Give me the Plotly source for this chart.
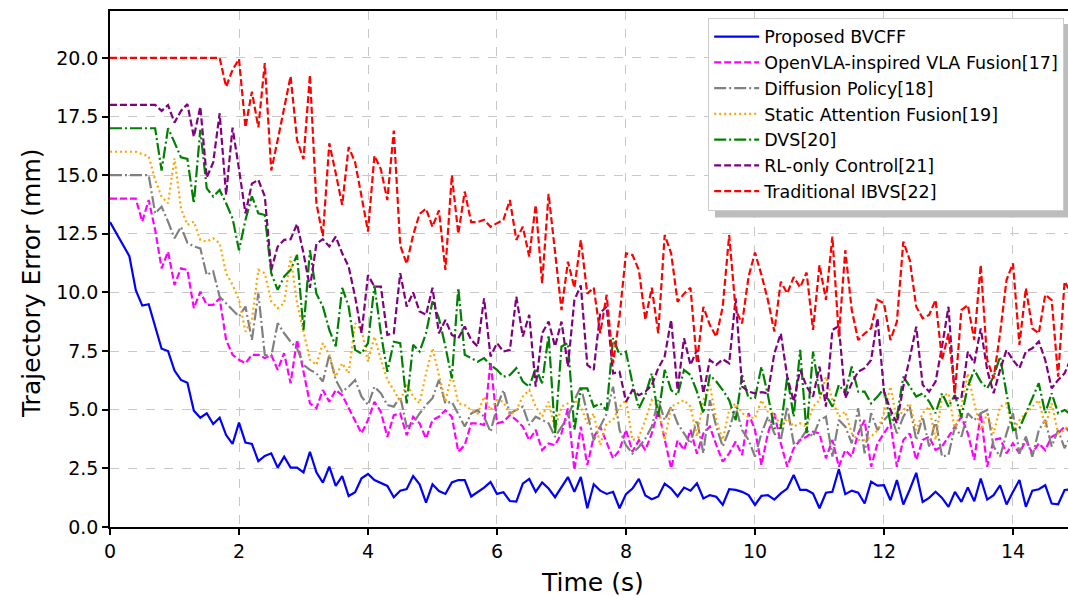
import plotly.graph_objects as go

TIME = [round(i * 0.1, 1) for i in range(150)]

proposed_bvcff = [
    13.0, 12.5, 12.0, 11.55, 10.1, 9.44, 9.5, 8.5, 7.6, 7.5,
    6.67, 6.27, 6.15, 4.96, 4.66, 4.85, 4.39, 4.66, 3.92, 3.54,
    4.45, 3.6, 3.54, 2.81, 3.03, 3.14, 2.53, 3.0, 2.53, 2.53,
    2.33, 3.21, 2.33, 1.89, 2.57, 1.75, 2.17, 1.32, 1.48, 2.08,
    2.26, 2.0, 1.88, 1.75, 1.27, 1.55, 1.62, 2.17, 1.82, 1.04,
    1.82, 1.53, 1.41, 1.9, 2.0, 2.0, 1.3, 1.48, 1.68, 1.92,
    1.41, 1.48, 1.11, 1.08, 1.85, 2.05, 1.5, 1.9, 1.64, 1.27,
    1.7, 2.13, 1.5, 2.13, 0.8, 1.82, 1.55, 1.41, 1.5, 0.8,
    1.4, 1.64, 2.05, 1.34, 1.18, 1.3, 1.85, 1.64, 1.3, 1.68,
    1.55, 1.86, 1.22, 1.36, 1.29, 0.94, 1.61, 1.58, 1.5, 1.36,
    0.94, 1.33, 1.36, 1.17, 1.43, 1.64, 2.22, 1.58, 1.58, 1.43,
    0.8, 1.46, 1.5, 2.46, 1.4, 1.55, 1.46, 1.0, 1.93, 1.76,
    1.78, 1.14, 2.0, 0.96, 1.6, 2.31, 1.07, 1.24, 1.5, 1.24,
    0.86, 1.5, 1.07, 1.69, 1.1, 2.07, 1.17, 1.36, 1.78, 0.96,
    1.5, 2.0, 0.86, 1.55, 1.61, 1.78, 1.0, 0.97, 1.58, 1.6,
]

openvla_fusion = [
    14, 14, 14, 14, 14, 13.02, 13.94, 12.67, 11.03, 11.74,
    10.32, 11.03, 10.96, 9.33, 10.03, 9.47, 9.47, 9.75, 7.98, 7.34,
    7.13, 6.98, 7.34, 7.34, 7.2, 7.34, 6.7, 7.41, 6.13, 7.98,
    6.55, 5.27, 5.06, 5.84, 5.34, 5.84, 5.62, 5.06, 4.56, 3.99,
    4.56, 5.34, 4.91, 3.84, 4.77, 4.84, 3.91, 4.7, 4.42, 3.77,
    4.56, 4.7, 4.98, 4.7, 3.21, 3.49, 4.42, 4.42, 4.35, 7.05,
    4.42, 4.49, 4.77, 4.56, 4.28, 3.7, 4.14, 3.28, 3.56, 3.49,
    3.99, 5.06, 2.43, 4.28, 2.64, 3.84, 4.28, 3.63, 2.92, 3.28,
    4.14, 3.21, 3.7, 3.28, 3.99, 4.98, 3.7, 2.5, 3.7, 3.28,
    4.14, 3.13, 3.99, 4.28, 3.5, 2.79, 3.14, 3.64, 3.07, 4.85,
    4.13, 2.64, 3.99, 4.85, 3.57, 2.57, 3.35, 3.71, 3.85, 4.06,
    3.99, 2.93, 3.71, 2.57, 3.28, 3.0, 3.99, 4.56, 2.57, 3.57,
    3.99, 4.42, 2.57, 3.71, 3.99, 2.86, 3.71, 3.85, 3.28, 3.43,
    3.85, 4.3, 4.7, 3.99, 2.86, 4.85, 2.57, 3.71, 3.78, 3.14,
    3.57, 3.14, 3.71, 3.14, 3.57, 3.28, 3.85, 3.99, 4.28, 3.99,
]

diffusion_policy = [
    15, 15, 15, 15, 15, 15, 15, 13.37, 13.66, 13.02,
    12.31, 12.8, 12.12, 11.96, 11.88, 10.74, 10.9, 9.82, 9.54, 9.22,
    8.97, 9.4, 7.98, 9.96, 7.34, 7.27, 8.69, 8.26, 7.9, 7.62,
    6.91, 6.7, 6.55, 6.2, 7.34, 6.27, 5.77, 5.98, 6.27, 5.56,
    5.2, 5.98, 5.7, 5.2, 5.13, 5.56, 4.28, 4.42, 4.84, 5.2,
    5.49, 6.27, 5.27, 5.34, 4.84, 4.28, 4.84, 4.98, 4.7, 4.06,
    5.13, 5.84, 4.84, 4.98, 5.13, 4.35, 4.7, 4.56, 4.42, 3.84,
    4.28, 4.7, 5.41, 5.98, 4.84, 3.7, 4.28, 4.84, 5.98, 4.14,
    3.49, 3.13, 3.41, 3.77, 4.28, 5.41, 4.56, 5.13, 4.42, 3.99,
    3.56, 4.56, 3.14, 5.41, 4.28, 3.43, 4.13, 5.13, 4.13, 3.71,
    3.0, 3.99, 4.7, 3.99, 3.71, 5.13, 3.57, 3.71, 4.13, 3.85,
    4.56, 4.7, 3.0, 4.56, 4.28, 3.57, 5.06, 3.14, 4.85, 4.13,
    4.56, 4.85, 3.99, 4.7, 5.13, 3.71, 4.7, 3.43, 4.56, 3.0,
    3.07, 4.28, 3.85, 4.85, 4.56, 4.85, 4.99, 3.43, 3.0, 3.99,
    4.85, 3.14, 3.85, 3.0, 4.13, 4.56, 3.43, 4.13, 3.36, 3.9,
]

static_attention = [
    16, 16, 16, 16, 16, 15.9, 15.8, 14.8, 14.08, 13.8,
    15.72, 13.59, 12.88, 13.02, 12.24, 12.17, 12.31, 12.1, 10.82, 10.32,
    9.68, 8.33, 8.83, 10.96, 10.82, 9.62, 9.33, 9.54, 11.53, 9.54,
    8.4, 7.13, 6.91, 7.84, 7.34, 6.41, 6.98, 6.55, 8.69, 8.4,
    7.05, 8.12, 7.13, 6.27, 5.84, 5.34, 6.13, 5.56, 5.27, 6.55,
    7.62, 6.41, 5.34, 6.55, 5.27, 5.2, 4.98, 4.84, 5.56, 4.98,
    5.41, 5.34, 4.77, 4.98, 5.56, 5.84, 5.13, 4.7, 5.34, 4.14,
    5.13, 5.27, 5.41, 5.13, 4.42, 4.84, 3.49, 4.42, 4.56, 5.13,
    5.41, 3.7, 3.84, 4.56, 5.41, 5.13, 3.7, 5.13, 5.27, 5.41,
    5.13, 3.85, 5.41, 6.06, 4.56, 3.71, 4.99, 5.27, 4.85, 4.7,
    4.63, 5.41, 4.92, 4.85, 4.28, 4.63, 4.28, 4.42, 4.28, 5.13,
    5.41, 6.41, 5.41, 4.7, 4.92, 3.99, 3.71, 3.71, 3.85, 4.13,
    4.85, 5.99, 4.56, 4.99, 5.27, 4.13, 4.85, 5.13, 3.71, 5.56,
    5.7, 4.13, 5.13, 6.55, 5.27, 4.13, 4.85, 3.99, 5.13, 5.27,
    4.13, 4.56, 4.85, 5.13, 5.41, 4.28, 5.27, 3.99, 4.13, 4.5,
]

dvs = [
    17, 17, 17, 17, 17, 17, 17, 17, 15.2, 17.0,
    16.4, 15.76, 15.69, 13.8, 16.93, 14.44, 14.09, 14.37, 13.8, 13.16,
    11.8, 13.09, 14.1, 13.37, 13.3, 10.82, 10.11, 10.68, 10.96, 11.6,
    8.4, 11.8, 9.95, 9.4, 8.4, 7.7, 10.2, 9.4, 7.55, 7.4,
    7.84, 10.3, 8.26, 6.62, 7.9, 7.84, 5.27, 7.77, 7.48, 8.26,
    9.62, 8.9, 7.7, 6.34, 10.2, 7.34, 7.2, 7.05, 7.2, 6.91,
    6.7, 6.41, 6.48, 6.77, 6.2, 5.98, 6.77, 6.13, 8.19, 3.97,
    7.7, 7.84, 4.14, 5.91, 5.91, 5.13, 5.27, 4.98, 8.05, 7.34,
    7.48, 6.13, 5.06, 5.62, 6.55, 4.7, 6.7, 5.84, 5.62, 6.7,
    6.48, 5.77, 4.85, 6.48, 6.2, 5.84, 5.41, 4.56, 6.48, 5.49,
    5.49, 6.84, 5.63, 4.21, 4.21, 6.41, 4.7, 7.55, 4.0, 7.48,
    5.7, 5.63, 5.13, 6.06, 5.7, 6.84, 5.77, 5.77, 5.27, 5.56,
    5.91, 4.42, 4.7, 6.41, 5.99, 5.56, 5.7, 5.35, 4.85, 5.7,
    5.13, 5.63, 4.7, 5.99, 6.7, 6.2, 5.91, 6.41, 7.26, 5.7,
    4.13, 4.21, 4.85, 5.41, 6.13, 4.85, 5.7, 4.85, 4.99, 4.8,
]

rl_only = [
    18, 18, 18, 18, 18, 18, 18, 18, 17.74, 17.99,
    17.24, 17.74, 18.03, 16.64, 17.92, 14.9, 15.54, 17.64, 14.16, 17.03,
    15.26, 13.37, 14.64, 14.8, 14.1, 10.96, 11.96, 12.24, 12.27, 12.92,
    11.67, 10.2, 12.07, 12.27, 11.96, 12.38, 11.67, 11.1, 9.82, 8.26,
    10.74, 10.25, 10.25, 8.19, 8.26, 10.82, 9.4, 10.0, 9.19, 9.05,
    10.2, 8.26, 8.83, 8.19, 8.05, 8.55, 7.98, 7.7, 9.75, 7.27,
    7.84, 7.48, 7.55, 9.82, 8.12, 9.05, 5.98, 8.26, 8.76, 7.7,
    8.76, 6.84, 9.68, 10.3, 6.91, 6.7, 9.12, 9.4, 6.55, 6.62,
    5.34, 5.84, 5.62, 5.77, 6.05, 6.77, 7.27, 8.83, 5.84, 8.05,
    6.91, 7.55, 5.7, 7.12, 6.91, 7.15, 6.98, 9.75, 5.99, 5.77,
    5.7, 5.75, 5.7, 7.4, 8.25, 6.41, 5.35, 6.7, 5.99, 5.56,
    6.84, 5.13, 8.4, 8.57, 5.49, 6.13, 6.62, 6.77, 7.12, 8.9,
    5.77, 5.0, 4.42, 5.99, 7.2, 8.54, 6.06, 5.77, 6.2, 7.69,
    9.39, 5.49, 5.49, 7.48, 6.98, 8.47, 6.7, 5.7, 6.7, 7.55,
    7.12, 6.77, 7.48, 7.62, 7.91, 7.12, 5.91, 6.27, 6.55, 7.2,
]

traditional_ibvs = [
    20, 20, 20, 20, 20, 20, 20, 20, 20, 20,
    20, 20, 20, 20, 20, 20, 20, 20, 18.77, 19.49,
    19.95, 17.04, 18.56, 17.04, 19.78, 15.2, 16.5, 17.9, 19.22, 16.5,
    15.68, 19.27, 13.8, 12.4, 16.36, 15.08, 13.73, 16.2, 15.55, 14.09,
    12.6, 15.83, 15.25, 13.94, 16.9, 12.0, 11.22, 12.45, 13.35, 13.57,
    12.8, 13.5, 10.96, 15.0, 12.5, 14.3, 13.0, 13.0, 13.1, 12.8,
    12.95, 13.1, 13.94, 12.24, 12.8, 11.53, 13.73, 10.39, 14.2, 11.67,
    9.25, 11.31, 10.2, 12.24, 9.95, 10.2, 8.26, 9.9, 6.98, 8.97,
    11.67, 11.6, 10.95, 8.83, 10.2, 8.26, 12.45, 11.67, 9.6, 9.95,
    10.2, 6.98, 9.39, 8.61, 8.11, 9.39, 12.45, 9.25, 8.68, 10.67,
    11.7, 10.75, 9.68, 8.33, 10.46, 9.96, 10.65, 10.22, 10.85, 8.4,
    11.17, 9.68, 12.38, 8.11, 11.8, 9.25, 7.97, 8.25, 8.47, 9.68,
    9.54, 7.97, 8.75, 12.17, 11.38, 9.39, 8.9, 9.04, 9.68, 7.12,
    8.25, 5.7, 9.25, 9.46, 7.97, 11.17, 7.12, 6.34, 8.25, 10.53,
    11.24, 7.76, 10.18, 8.47, 8.25, 9.9, 9.68, 6.41, 10.46, 10.0,
]

SERIES_NAMES = [
    "Proposed BVCFF",
    "OpenVLA-inspired VLA Fusion[17]",
    "Diffusion Policy[18]",
    "Static Attention Fusion[19]",
    "DVS[20]",
    "RL-only Control[21]",
    "Traditional IBVS[22]",
]
SERIES_VALUES = [proposed_bvcff, openvla_fusion, diffusion_policy, static_attention,
                 dvs, rl_only, traditional_ibvs]
COLORS = ["#0000ff", "#ff00ff", "#808080", "#ffa500", "#008000", "#800080", "#ff0000"]
DASHES = ["solid", "7px,3px", "12px,3px,2px,3px", "2px,3px", "12px,3px,2px,3px",
          "7px,3px", "7px,3px"]

Y_TICKS = [0, 2.5, 5, 7.5, 10, 12.5, 15, 17.5, 20]
X_TICKS = [0, 2, 4, 6, 8, 10, 12, 14]

FONT = "DejaVu Sans"

fig = go.Figure()
for name, vals, color, dash in zip(SERIES_NAMES, SERIES_VALUES, COLORS, DASHES):
    fig.add_trace(go.Scatter(
        x=TIME, y=vals, mode="lines", name=name,
        line=dict(color=color, width=2.2, dash=dash),
    ))

# legend shadow (offset grey box behind the legend)
fig.add_shape(type="rect", xref="paper", yref="paper",
              x0=0.6315, x1=1.005, y0=0.600, y1=0.975,
              fillcolor="#bdbdbd", line=dict(width=0), layer="above")

# axis titles
fig.add_annotation(text="Time (s)", xref="paper", yref="paper", x=0.504, y=-0.107,
                   xanchor="center", yanchor="middle", showarrow=False,
                   font=dict(family=FONT, size=25, color="black"))
fig.add_annotation(text="Trajectory Error (mm)", xref="paper", yref="paper", x=-0.0814, y=0.471,
                   xanchor="center", yanchor="middle", showarrow=False, textangle=-90,
                   font=dict(family=FONT, size=25, color="black"))

fig.update_layout(
    width=1068, height=596,
    margin=dict(l=110, r=0, t=11, b=69, autoexpand=False),
    paper_bgcolor="white", plot_bgcolor="white",
    font=dict(family=FONT, color="black"),
    showlegend=True,
    legend=dict(
        x=0.996, xanchor="right", y=0.987, yanchor="top",
        bgcolor="white", bordercolor="#cccccc", borderwidth=1,
        font=dict(family=FONT, size=17.5, color="black"),
        tracegroupgap=0, itemwidth=45,
    ),
    xaxis=dict(
        range=[0, 14.853], tickvals=X_TICKS, ticktext=[str(v) for v in X_TICKS],
        ticks="outside", ticklen=6, tickwidth=1.5, tickcolor="black",
        showline=True, linecolor="black", linewidth=1.5, mirror=True,
        showgrid=True, gridcolor="#c8c8c8", griddash="dash", gridwidth=1,
        zeroline=False, automargin=False,
        tickfont=dict(family=FONT, size=19),
    ),
    yaxis=dict(
        range=[0, 22], tickvals=Y_TICKS, ticktext=[f"{v:.1f}" for v in Y_TICKS],
        ticks="outside", ticklen=6, tickwidth=1.5, tickcolor="black",
        showline=True, linecolor="black", linewidth=1.5, mirror=False,
        showgrid=True, gridcolor="#c8c8c8", griddash="dash", gridwidth=1,
        zeroline=False, automargin=False,
        tickfont=dict(family=FONT, size=19),
    ),
)

fig.write_html(
    "out.html",
    config={"displayModeBar": False},
    post_script="document.body.style.margin='0px';document.body.style.overflow='hidden';",
)
